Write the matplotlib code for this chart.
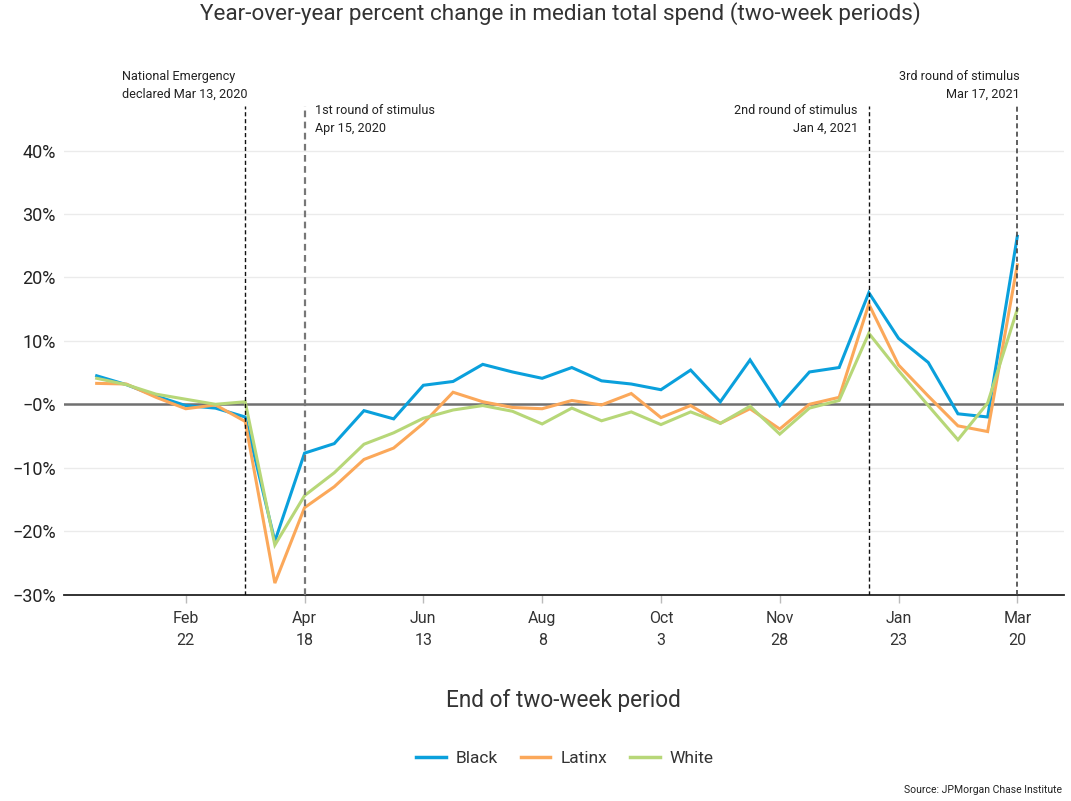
import matplotlib
matplotlib.use("Agg")
import matplotlib.pyplot as plt
import matplotlib.dates as mdates
import pandas as pd

plt.rcParams['font.family'] = ['Roboto', 'DejaVu Sans']

# ---- data ----
period_end = ["2020-01-11", "2020-01-25", "2020-02-08", "2020-02-22", "2020-03-07",
              "2020-03-21", "2020-04-04", "2020-04-18", "2020-05-02", "2020-05-16",
              "2020-05-30", "2020-06-13", "2020-06-27", "2020-07-11", "2020-07-25",
              "2020-08-08", "2020-08-22", "2020-09-05", "2020-09-19", "2020-10-03",
              "2020-10-17", "2020-10-31", "2020-11-14", "2020-11-28", "2020-12-12",
              "2020-12-26", "2021-01-09", "2021-01-23", "2021-02-06", "2021-02-20",
              "2021-03-06", "2021-03-20"]
black = [4.5, 3.1, 1.3, -0.2, -0.6, -2.0, -21.6, -7.7, -6.2, -1.0, -2.3, 3.0, 3.6, 6.3,
         5.1, 4.1, 5.8, 3.7, 3.2, 2.3, 5.4, 0.4, 7.0, -0.2, 5.1, 5.8, 17.6, 10.4, 6.6,
         -1.5, -2.0, 26.5]
latinx = [3.3, 3.2, 1.1, -0.7, -0.1, -2.7, -28.2, -16.3, -13.0, -8.7, -6.9, -3.0, 1.9, 0.4,
          -0.5, -0.7, 0.6, -0.1, 1.7, -2.1, -0.2, -3.0, -0.7, -3.9, 0.0, 1.1, 15.8, 6.2, 1.3,
          -3.4, -4.3, 22.0]
white = [4.1, 3.1, 1.6, 0.8, 0.0, 0.4, -22.2, -14.4, -10.8, -6.3, -4.5, -2.2, -0.9, -0.2,
         -1.1, -3.1, -0.6, -2.6, -1.2, -3.2, -1.2, -3.0, -0.3, -4.7, -0.6, 0.6, 11.2, 5.3,
         -0.2, -5.6, 0.2, 15.0]
series_names = ["Black", "Latinx", "White"]
series_colors = ["#0aa0dc", "#fba85a", "#b7d778"]

xtick_dates = ["2020-02-22", "2020-04-18", "2020-06-13", "2020-08-08",
               "2020-10-03", "2020-11-28", "2021-01-23", "2021-03-20"]
xtick_labels = ["Feb\n22", "Apr\n18", "Jun\n13", "Aug\n8", "Oct\n3", "Nov\n28", "Jan\n23", "Mar\n20"]
ytick_values = [40, 30, 20, 10, 0, -10, -20, -30]
ytick_labels = ["40%", "30%", "20%", "10%", "\u22120%", "\u221210%", "\u221220%", "\u221230%"]

events = ["2020-03-21", "2020-04-18", "2021-01-09", "2021-03-20"]
event_texts = ["National Emergency\ndeclared Mar 13, 2020", "1st round of stimulus\nApr 15, 2020",
               "2nd round of stimulus\nJan 4, 2021", "3rd round of stimulus\nMar 17, 2021"]

# ---- figure ----
W, H = 1071, 801
fig = plt.figure(figsize=(W / 100, H / 100), dpi=100)
ax = fig.add_axes([64 / W, (H - 594.5) / H, 1000 / W, (594.5 - 106) / H])

x = pd.to_datetime(period_end)
for vals, name, col in zip([black, latinx, white], series_names, series_colors):
    ax.plot(x, vals, color=col, lw=2.2, label=name, zorder=3, solid_joinstyle='miter')

ax.set_xlim(x[0] - pd.Timedelta(days=15.4), x[-1] + pd.Timedelta(days=22))
ax.set_ylim(-30, 47.05)

for v in ytick_values:
    if v == 0:
        ax.axhline(v, color="#707070", lw=1.8, zorder=2)
    elif v != -30:
        ax.axhline(v, color="#ebebeb", lw=1, zorder=1)

ax.set_yticks(ytick_values)
ax.set_yticklabels(ytick_labels)
ax.tick_params(axis='y', length=0, pad=6, labelsize=13, labelcolor="#222222")

ax.set_xticks(pd.to_datetime(xtick_dates))
ax.set_xticklabels(xtick_labels, linespacing=1.55)
ax.tick_params(axis='x', length=6, width=1, color="#bbbbbb", pad=6, labelsize=11.5,
               labelcolor="#333333")
for lbl in ax.get_xticklabels():
    lbl.set_x(lbl.get_position()[0])

for s in ["top", "right", "left"]:
    ax.spines[s].set_visible(False)
ax.spines["bottom"].set_color("#222222")
ax.spines["bottom"].set_linewidth(1.3)

# event lines and labels
ev_style = [("#111111", 1.0), ("#777777", 1.6), ("#111111", 1.0), ("#444444", 1.2)]
# (x offset px, y offset px, ha, multialign)
ev_pos = [(2, 20.5, 'right', 'left'), (10, -13.5, 'left', 'left'),
          (-11, -13.5, 'right', 'right'), (2, 20.5, 'right', 'right')]
for d, t, (c, lw), (dx, dy, ha, ma) in zip(events, event_texts, ev_style, ev_pos):
    dd = pd.to_datetime(d)
    ax.axvline(dd, color=c, lw=lw, ls=(0, (3, 2)), zorder=4)
    ax.annotate(t, xy=(dd, 1.0), xycoords=('data', 'axes fraction'),
                xytext=(dx * 0.72, dy * 0.72), textcoords='offset points',
                ha=ha, va='center', multialignment=ma, fontsize=9.1, color="#222222",
                linespacing=1.5, annotation_clip=False)

fig.text(560 / W, 1 - 14 / H, "Year-over-year percent change in median total spend (two-week periods)",
         ha='center', va='center', fontsize=16.2, color="#333333")
fig.text(563 / W, 1 - 701 / H, "End of two-week period", ha='center', va='center',
         fontsize=16.3, color="#333333")

leg = fig.legend(loc='center', bbox_to_anchor=(565 / W, 1 - 758 / H), ncol=3, frameon=False,
                 fontsize=12.5, handlelength=1.7, handletextpad=0.6, columnspacing=1.3)
for t in leg.get_texts():
    t.set_color("#333333")
for l in leg.get_lines():
    l.set_linewidth(2.5)

fig.text(1062 / W, 1 - 790 / H, "Source: JPMorgan Chase Institute", ha='right', va='center',
         fontsize=7.5, color="#222222")

fig.savefig("out.png", dpi=100)
